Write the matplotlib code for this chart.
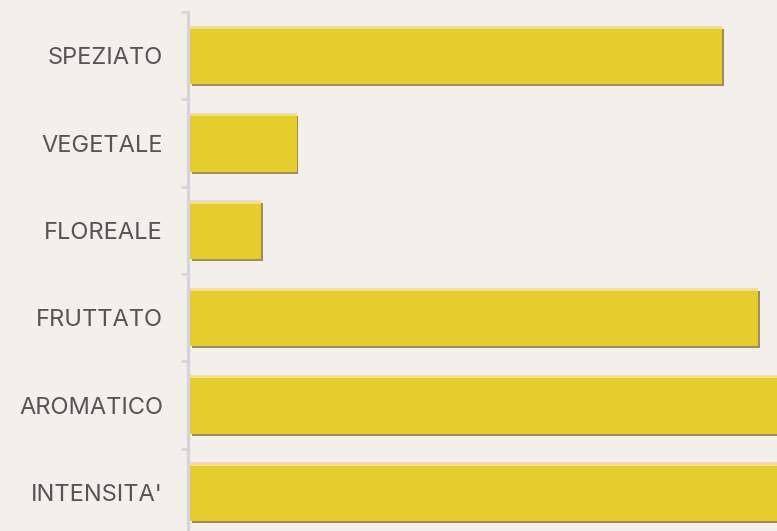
import matplotlib.pyplot as plt
import numpy as np
from matplotlib import patheffects as pe

categories = ["SPEZIATO", "VEGETALE", "FLOREALE", "FRUTTATO", "AROMATICO", "INTENSITA'"]
values = [15, 3, 2, 16, 18, 18]

BG = "#F3F0EC"
BAR = "#E5CD2E"

fig = plt.figure(figsize=(7.77, 5.31), dpi=100)
fig.set_facecolor(BG)
ax = fig.add_axes([188 / 777, -5 / 531, 589 / 777, 524 / 531])
ax.set_facecolor(BG)

y = np.arange(len(categories))
h = 0.66

# main bars with a soft dark shadow bottom/right
bars = ax.barh(y, values, height=h, color=BAR, left=0.06, zorder=3)
for b in bars:
    b.set_path_effects([
        pe.SimplePatchShadow(offset=(1.2, -1.4), shadow_rgbFace="#8a776a", alpha=0.85),
        pe.Normal(),
    ])
# highlight strip on top edge
ax.barh(y - h / 2 + 0.012, values, height=0.024, color="#F6E75A", left=0.06, zorder=4)
ax.barh(y - h / 2 - 0.006, values, height=0.012, color="#F6D5C5", left=0.06, zorder=2)

ax.set_xlim(0, 16.6)
ax.set_ylim(len(categories) - 0.5, -0.5)

ax.set_yticks(y)
ax.set_yticklabels(categories, fontsize=17, color="#555555", family=["Inter", "DejaVu Sans"])
ax.set_yticks(np.arange(len(categories) + 1) - 0.5, minor=True)
ax.tick_params(axis="y", which="major", length=0, pad=18)
ax.tick_params(axis="y", which="minor", length=5, width=2, color="#D6D6D6")
ax.set_xticks([])

for s in ["top", "right", "bottom"]:
    ax.spines[s].set_visible(False)
ax.spines["left"].set_color("#D6D6D6")
ax.spines["left"].set_linewidth(2.5)

fig.savefig("out.png", dpi=100, facecolor=BG)
